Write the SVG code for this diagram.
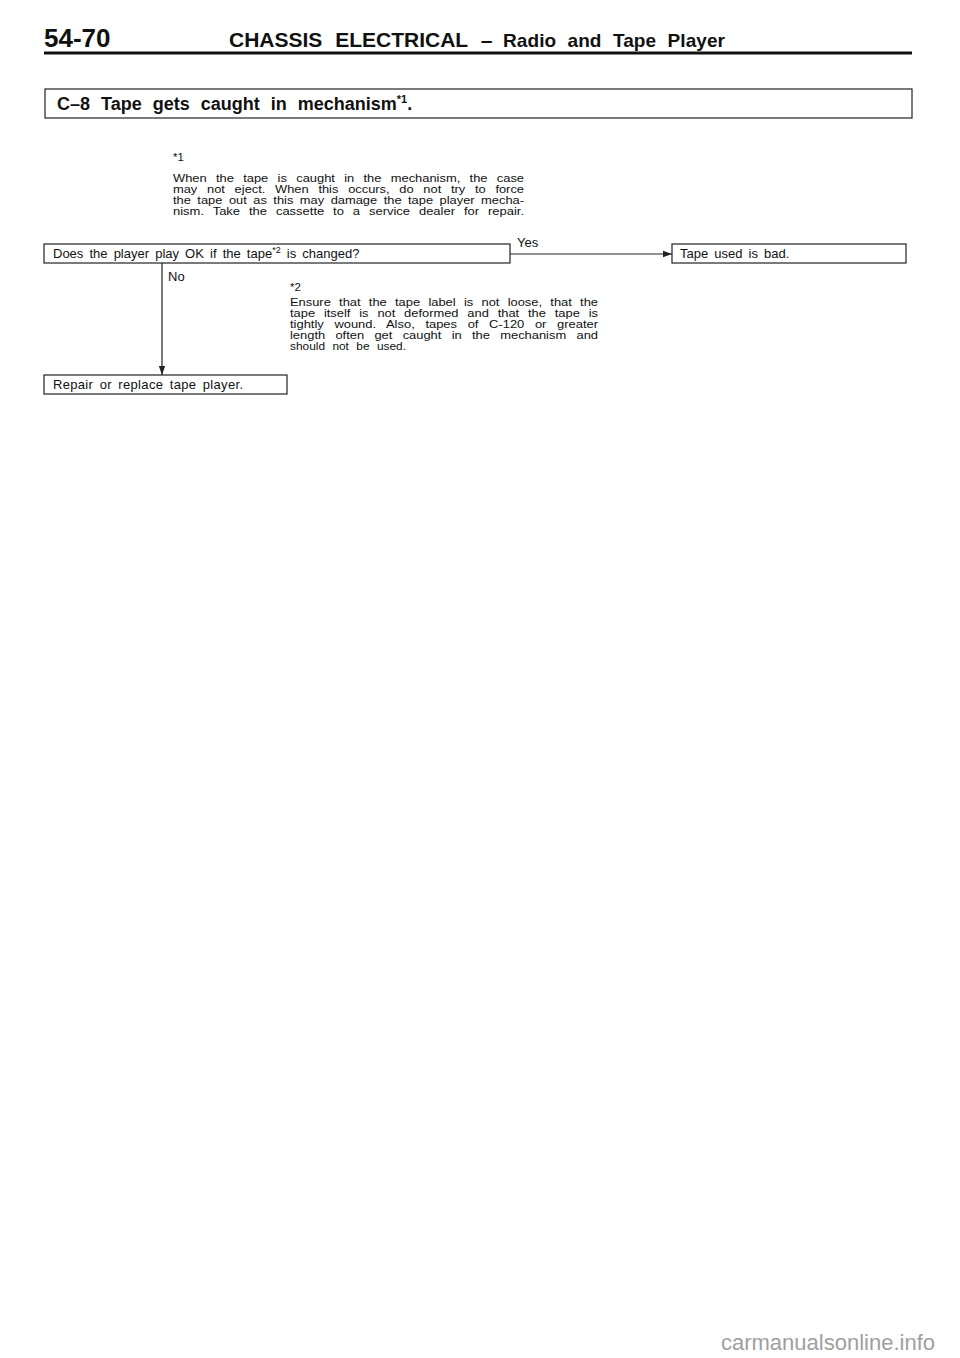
<svg xmlns="http://www.w3.org/2000/svg" width="960" height="1358" viewBox="0 0 960 1358">
<style>
.t{font-family:"Liberation Sans",Arial,sans-serif;fill:#111}
.b{font-weight:bold}
.box{fill:#fff;stroke:#222;stroke-width:1.2}
.ln{stroke:#222;stroke-width:1.2;fill:none}
.n{font-size:13px;word-spacing:2.5px}
.s{font-size:11.5px}
</style>
<defs>
<marker id="ah" viewBox="0 0 10 10" refX="10" refY="5" markerWidth="9" markerHeight="9" markerUnits="userSpaceOnUse" orient="auto">
<path d="M0,1.5 L10,5 L0,8.5 z" fill="#222"/>
</marker>
</defs>
<rect width="960" height="1358" fill="#fff"/>
<g id="header">
<text class="t b" x="44" y="47" font-size="26">54-70</text>
<text class="t b" x="229" y="47" font-size="21" word-spacing="7">CHASSIS ELECTRICAL –</text>
<text class="t b" x="503" y="47" font-size="19" word-spacing="6" textLength="222" lengthAdjust="spacing">Radio and Tape Player</text>
<line x1="44" y1="53" x2="912" y2="53" stroke="#111" stroke-width="3"/>
</g>
<g id="title">
<rect class="box" x="45" y="89" width="867" height="29" stroke-width="1.6"/>
<text class="t b" x="57" y="110" font-size="18" word-spacing="6">C–8  Tape gets caught in mechanism<tspan font-size="11" dy="-7">*1</tspan><tspan dy="7">.</tspan></text>
</g>
<g id="note1">
<text class="t s" x="173" y="161">*1</text>
<text class="t s" x="173" y="182" word-spacing="5.1" textLength="351" lengthAdjust="spacingAndGlyphs">When the tape is caught in the mechanism, the case</text>
<text class="t s" x="173" y="193" word-spacing="5.5" textLength="351" lengthAdjust="spacingAndGlyphs">may not eject. When this occurs, do not try to force</text>
<text class="t s" x="173" y="204" word-spacing="2.6" textLength="351" lengthAdjust="spacingAndGlyphs">the tape out as this may damage the tape player mecha-</text>
<text class="t s" x="173" y="215" word-spacing="4.7" textLength="351" lengthAdjust="spacingAndGlyphs">nism. Take the cassette to a service dealer for repair.</text>
</g>
<g id="q1">
<rect class="box" x="44" y="244" width="466" height="19"/>
<text class="t n" x="53" y="258">Does the player play OK if the tape<tspan font-size="9" dy="-5">*2</tspan><tspan dy="5"> is changed?</tspan></text>
</g>
<g id="yes-result">
<rect class="box" x="672" y="244" width="234" height="19"/>
<text class="t n" x="680" y="258">Tape used is bad.</text>
</g>
<g id="no-result">
<rect class="box" x="44" y="375" width="243" height="19"/>
<text class="t n" x="53" y="389" word-spacing="5" textLength="190" lengthAdjust="spacing">Repair or replace tape player.</text>
</g>
<g id="note2">
<text class="t s" x="290" y="291">*2</text>
<text class="t s" x="290" y="306" word-spacing="4.2" textLength="308" lengthAdjust="spacingAndGlyphs">Ensure that the tape label is not loose, that the</text>
<text class="t s" x="290" y="317" word-spacing="4.7" textLength="308" lengthAdjust="spacingAndGlyphs">tape itself is not deformed and that the tape is</text>
<text class="t s" x="290" y="328" word-spacing="6.3" textLength="308" lengthAdjust="spacingAndGlyphs">tightly wound. Also, tapes of C-120 or greater</text>
<text class="t s" x="290" y="339" word-spacing="6" textLength="308" lengthAdjust="spacingAndGlyphs">length often get caught in the mechanism and</text>
<text class="t s" x="290" y="350" word-spacing="4" textLength="116" lengthAdjust="spacingAndGlyphs">should not be used.</text>
</g>
<g id="connectors">
<line class="ln" x1="510" y1="254" x2="672" y2="254" marker-end="url(#ah)"/>
<text class="t n" x="517" y="247">Yes</text>
<line class="ln" x1="162" y1="263" x2="162" y2="375" marker-end="url(#ah)"/>
<text class="t n" x="168" y="281">No</text>
</g>
<text x="935" y="1350" text-anchor="end" font-family="Liberation Sans,Arial,sans-serif" font-size="22" fill="#a0a0a0">carmanualsonline.info</text>
</svg>
